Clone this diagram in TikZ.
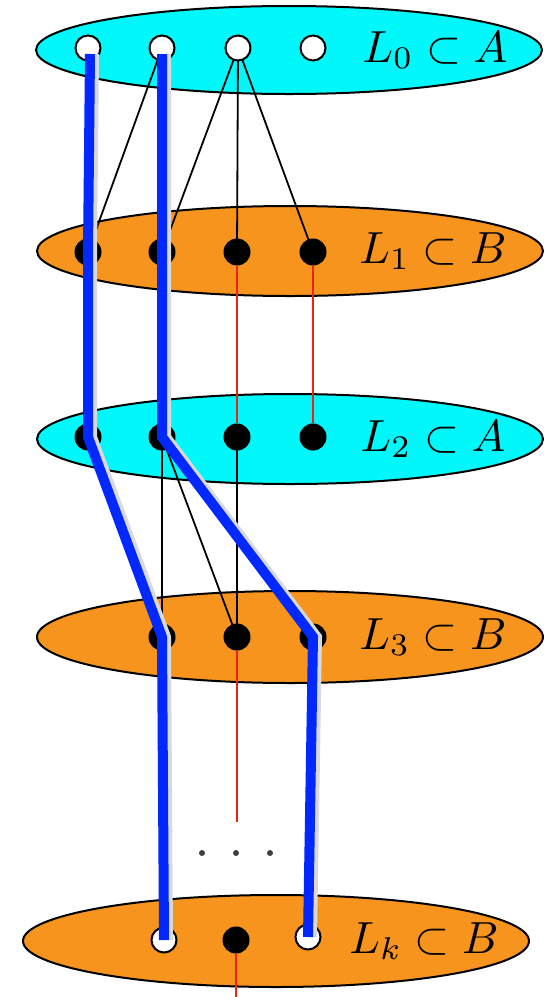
\documentclass[tikz,border=0pt]{standalone}
\usepackage{tikz}
\usetikzlibrary{shapes.geometric, positioning, calc}
\definecolor{layA}{RGB}{0,248,250}
\definecolor{layB}{RGB}{247,148,29}
\definecolor{pathblue}{RGB}{0,40,255}
\definecolor{edgered}{RGB}{235,35,20}
\pgfdeclarelayer{back}
\pgfdeclarelayer{edge}
\pgfdeclarelayer{front}
\pgfsetlayers{back,edge,main,front}
\begin{document}
\begin{tikzpicture}[x=1pt, y=-1pt,
    layer/.style={ellipse, draw, line width=2pt, minimum width=506pt, minimum height=88pt, inner sep=0pt},
    lab/.style={scale=4.5, inner sep=0pt},
    open/.style={circle, draw, line width=2pt, fill=white, minimum size=25pt, inner sep=0pt},
    full/.style={circle, fill=black, minimum size=27pt, inner sep=0pt},
    blk/.style={line width=1.8pt},
    rd/.style={draw=edgered, line width=1.3pt},
    blu/.style={draw=pathblue, line width=10pt,
        preaction={draw=black!15, line width=10pt, transform canvas={xshift=4pt}}}
]
    \useasboundingbox (0,0) rectangle (557,997);
    % layers
    \begin{pgfonlayer}{back}
    \node[layer, fill=layA] (l0) at (289,50) {};
    \node[layer, fill=layB, minimum height=90pt] (l1) at (290,251) {};
    \node[layer, fill=layA, minimum height=90pt] (l2) at (290,439) {};
    \node[layer, fill=layB, minimum height=92pt] (l3) at (290,637) {};
    \node[layer, fill=layB, minimum height=92pt] (lk) at (276,941) {};
    \end{pgfonlayer}
    \node[lab] at (435,50) {$L_0\subset A$};
    \node[lab] at (433,251) {$L_1\subset B$};
    \node[lab] at (433,439) {$L_2\subset A$};
    \node[lab] at (433,637) {$L_3\subset B$};
    \node[lab] at (424,941) {$L_k\subset B$};
    % vertices
    \node[open] (a1) at (88,48) {};
    \node[open] (a2) at (162,48) {};
    \node[open] (a3) at (238,48) {};
    \node[open] (a4) at (313,48) {};
    \node[full] (b1) at (88,252) {};
    \node[full] (b2) at (162,252) {};
    \node[full] (b3) at (237,252) {};
    \node[full] (b4) at (313,252) {};
    \node[full] (c1) at (88,437) {};
    \node[full] (c2) at (162,437) {};
    \node[full] (c3) at (237,437) {};
    \node[full] (c4) at (313,437) {};
    \node[full] (d2) at (162,637) {};
    \node[full] (d3) at (237,637) {};
    \node[full] (d4) at (313,637) {};
    \node[open] (k2) at (164,940) {};
    \node[full] (k3) at (236,940) {};
    \node[open] (k4) at (308,937) {};
    \coordinate (d3end) at (237,822);
    \coordinate (k3end) at (236,997);
    % edges
    \begin{pgfonlayer}{edge}
    \draw[blk] (a2.center) -- (b1.center);
    \draw[blk] (a3.center) -- (b2.center);
    \draw[blk] (a3.center) -- (b3.center);
    \draw[blk] (a3.center) -- (b4.center);
    \draw[blk] (c2.center) -- (d2.center);
    \draw[blk] (c2.center) -- (d3.center);
    \draw[blk] (c3.center) -- (d3.center);
    \draw[rd] (b3) -- (c3);
    \draw[rd] (b4) -- (c4);
    \draw[rd] (d3) -- (d3end);
    \draw[rd] (k3) -- (k3end);
    \end{pgfonlayer}
    \begin{pgfonlayer}{front}
    \draw[blu] ($(a1.center)+(2,6)$) -- (b1.center) -- (c1.center) -- (d2.center) -- (k2.center);
    \draw[blu] ($(a2.center)+(0,6)$) -- (b2.center) -- (c2.center) -- (d4.center) -- (k4.center);
    \end{pgfonlayer}
    % dots
    \foreach \x in {202,236,270}
        \fill[black!75] (\x,853) circle (3pt);
\end{tikzpicture}
\end{document}
